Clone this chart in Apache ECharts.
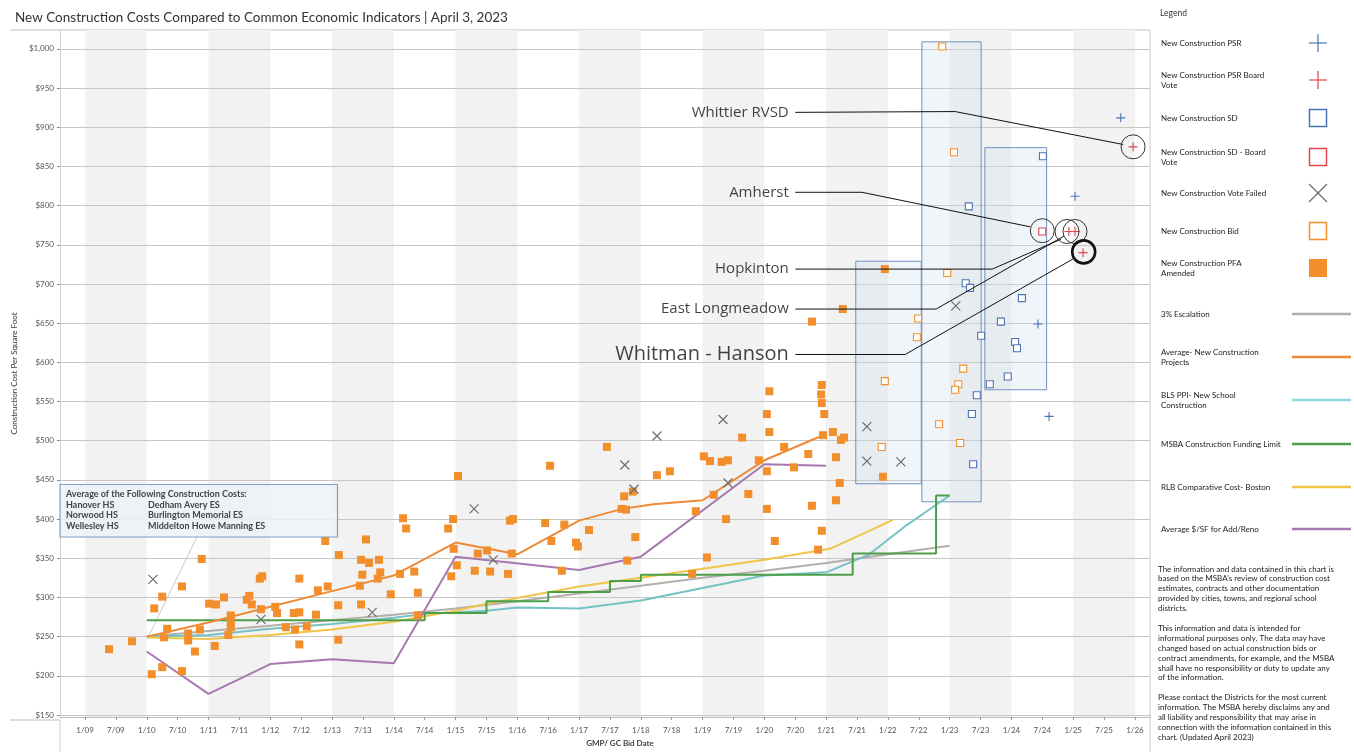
<!DOCTYPE html>
<html>
<head>
<meta charset="utf-8">
<script src="https://cdn.jsdelivr.net/npm/echarts@6/dist/echarts.min.js"></script>
<style>
html, body { margin: 0; padding: 0; background: #fff; }
#main { width: 1354px; height: 752px; }
</style>
</head>
<body>
<div id="main"></div>
<script>
// axis ticks
var dateTicks = ['1/09','7/09','1/10','7/10','1/11','7/11','1/12','7/12','1/13','7/13','1/14','7/14',
  '1/15','7/15','1/16','7/16','1/17','7/17','1/18','7/18','1/19','7/19','1/20','7/20','1/21','7/21',
  '1/22','7/22','1/23','7/23','1/24','7/24','1/25','7/25','1/26'];
var costTicks = [150,200,250,300,350,400,450,500,550,600,650,700,750,800,850,900,950,1000];
// grey year bands start on these years
var bandYears = [2009,2011,2013,2015,2017,2019,2021,2023,2025];

// x = year (decimal), y = $ per sq ft
var pfaAmended = [
  [2009.39,234],[2009.76,244],[2010.12,286],[2010.25,301],[2010.08,202],[2010.25,211],[2010.57,206],
  [2010.57,314],[2010.33,260],[2010.28,249],[2010.89,349],[2011.01,292],[2011.12,291],[2011.25,300],
  [2010.86,259],[2010.67,254],[2010.67,245],[2010.78,231],[2011.10,238],[2011.36,277],[2011.36,269],
  [2011.36,262],[2011.32,252],[2011.62,297],[2011.66,302],[2011.70,291],[2011.83,324],[2011.87,327],
  [2011.85,285],[2012.08,288],[2012.11,280],[2012.25,262],[2012.47,324],[2012.38,280],[2012.47,281],
  [2012.40,259],[2012.59,263],[2012.47,240],[2012.74,278],[2012.77,309],[2012.93,314],[2012.89,372],
  [2013.11,354],[2013.10,290],[2013.10,246],[2013.45,315],[2013.47,291],[2013.49,329],[2013.55,374],
  [2013.47,348],[2013.60,344],[2013.76,348],[2013.78,332],[2013.74,324],[2013.95,304],[2014.10,330],
  [2014.33,333],[2014.39,306],[2014.39,277],[2014.88,388],[2014.97,362],[2015.02,341],[2014.93,327],
  [2015.31,334],[2015.36,356],[2015.04,455],[2014.96,400],[2015.51,360],[2015.56,333],[2015.85,330],
  [2015.88,398],[2015.93,400],[2015.91,356],[2016.45,395],[2016.55,372],[2016.53,468],[2016.76,393],
  [2016.95,370],[2016.98,365],[2017.16,386],[2016.72,334],[2017.45,492],[2017.69,413],[2017.76,412],
  [2017.73,429],[2017.87,435],[2017.91,377],[2017.78,347],[2018.26,456],[2018.47,461],[2018.83,330],
  [2018.89,410],[2019.02,480],[2019.12,474],[2019.31,473],[2019.41,475],[2019.18,431],[2019.38,400],
  [2019.07,351],[2019.64,504],[2019.74,432],[2019.91,475],[2020.04,461],[2020.04,413],[2020.17,372],
  [2020.08,563],[2020.04,534],[2020.08,511],[2020.32,492],[2020.48,466],[2020.71,483],[2020.77,417],
  [2020.87,361],[2020.93,385],[2020.93,571],[2020.92,559],[2020.93,548],[2020.97,534],[2020.95,507],
  [2021.11,511],[2021.24,501],[2021.29,504],[2021.16,479],[2021.22,446],[2021.16,424],[2020.77,652],
  [2021.27,668],[2021.95,719],[2021.92,454],[2014.20,388],[2014.15,401]
];
var voteFailed = [
  [2010.10,323],[2011.85,272],[2013.65,281],[2015.30,413],[2015.61,348],[2017.74,469],[2017.89,438],
  [2018.26,506],[2019.33,527],[2019.41,446],[2021.66,518],[2021.66,474],[2022.21,473],[2023.10,672]
];
var bid = [
  [2022.88,1003],[2023.07,868],[2022.96,714],[2022.49,656],[2022.47,632],[2021.95,576],[2021.90,492],
  [2023.22,592],[2023.14,572],[2023.09,565],[2022.83,521],[2023.17,497]
];
var sd = [
  [2024.51,863],[2023.31,799],[2023.26,701],[2023.33,695],[2023.51,634],[2023.83,652],[2024.17,682],
  [2024.06,626],[2024.09,618],[2023.65,572],[2023.94,582],[2023.44,558],[2023.36,534],[2023.38,470]
];
var sdBoardVote = [[2024.50,767]];
var psr = [[2025.77,912],[2025.03,812],[2024.43,649],[2024.61,531]];
var psrBoardVote = [[2025.97,875],[2024.93,767],[2025.03,767],[2025.16,740]];

var avgNewConstruction = [[2010,250],[2011,268],[2012,288],[2013,308],[2014,328],[2015,370],[2016,355],
  [2017,398],[2017.7,413],[2018.2,419],[2019,424],[2020,475],[2020.95,507]];
var avgAddReno = [[2010,231],[2011,177],[2012,215],[2013,221],[2014,216],[2015,352],[2017,335],
  [2018,352],[2020,470],[2021,468]];
var escalation3 = [[2010,250],[2011,257],[2012,264],[2013,271],[2014,278],[2015,286],[2016,295],
  [2017,305],[2018,315],[2019,325],[2020,334],[2021,344],[2022,355],[2023,366]];
var blsPpi = [[2010,250],[2011,252],[2012,260],[2013,266],[2014,274],[2014.5,279],[2015.5,283],[2016,287],
  [2017,286],[2018,296],[2020,328],[2021,332],[2021.7,355],[2022.3,392],[2023,430]];
var rlbBoston = [[2010,249],[2011,247],[2012,252],[2013,259],[2014,269],[2015,283],[2015.5,292],
  [2017,314],[2018,325],[2020,348],[2021.06,362],[2021.7,385],[2022.08,399]];
var msbaLimit = [[2010,271],[2014.5,280],[2015.5,295],[2016.5,307],[2017.5,321],[2018,329],
  [2021.43,356],[2022.78,430],[2023,430]];

// shaded study boxes [x0, y0, x1, y1]
var studyBoxes = [[2021.48,729,2022.54,445],[2022.55,1009,2023.51,422],[2023.57,874,2024.57,565]];

// called-out projects
var callouts = [
  {name: 'Whittier RVSD', path: [[2020.5,919],[2023.09,920],[2025.81,878]], size: 15},
  {name: 'Amherst', path: [[2020.5,817],[2021.58,817],[2024.30,773]], size: 15},
  {name: 'Hopkinton', path: [[2020.5,719],[2023.69,719],[2024.80,757]], size: 15},
  {name: 'East Longmeadow', path: [[2020.5,668],[2022.78,668],[2024.85,761]], size: 15},
  {name: 'Whitman - Hanson', path: [[2020.5,610],[2022.28,610],[2025.00,732]], size: 20}
];
var calloutRings = [[2025.97,875],[2024.50,768],[2024.90,767],[2025.03,767]];
var boldRing = [[2025.17,741]];

var BLUE = '#4a74b4', RED = '#e0474c', ORANGE = '#f28f2c', XGRAY = '#6e6e6e';
var C_ESC = '#b5aeab', C_AVG = '#ee8a36', C_BLS = '#74c2c6', C_BLS_LEG = '#93d4e4',
    C_MSBA = '#4c9e48', C_RLB = '#f0c548', C_RENO = '#a879b0';
var FONT = 'Lato, "Liberation Sans", sans-serif';

function tickValue(s) {
  var p = s.split('/');
  return 2000 + Number(p[1]) + (Number(p[0]) - 1) / 12;
}
var tickValues = dateTicks.map(tickValue);

var plusPath = 'path://M0,5L10,5M5,0L5,10';
var crossPath = 'path://M0,0L10,10M10,0L0,10';

var myChart = echarts.init(document.getElementById('main'));

// legend drawn on the right
var legendRows = [
  ['New Construction PSR', 'plus', BLUE, 43],
  ['New Construction PSR Board\nVote', 'plus', RED, 80],
  ['New Construction SD', 'square', BLUE, 118],
  ['New Construction SD - Board\nVote', 'square', RED, 157],
  ['New Construction Vote Failed', 'cross', XGRAY, 193],
  ['New Construction Bid', 'square', ORANGE, 231],
  ['New Construction PFA\nAmended', 'filled', ORANGE, 268],
  ['3% Escalation', 'line', C_ESC, 314],
  ['Average- New Construction\nProjects', 'line', C_AVG, 357],
  ['BLS PPI- New School\nConstruction', 'line', C_BLS_LEG, 400],
  ['MSBA Construction Funding Limit', 'line', C_MSBA, 444],
  ['RLB Comparative Cost- Boston', 'line', C_RLB, 487],
  ['Average $/SF for Add/Reno', 'line', C_RENO, 529]
];
var graphics = [
  {type: 'line', shape: {x1: 10, y1: 30, x2: 1150, y2: 30}, style: {stroke: '#d6d6d6', lineWidth: 1.5}},
  {type: 'line', shape: {x1: 1150, y1: 30, x2: 1150, y2: 752}, style: {stroke: '#dcdcdc', lineWidth: 1.5}},
  {type: 'line', shape: {x1: 60, y1: 720, x2: 60, y2: 752}, style: {stroke: '#d0d0d0', lineWidth: 1}},
  {type: 'line', shape: {x1: 10, y1: 720, x2: 60, y2: 720}, style: {stroke: '#bdbdbd', lineWidth: 1}},
  {type: 'text', x: 1160, y: 13, style: {text: 'Legend', fill: '#333', fontSize: 8.5, fontFamily: FONT, verticalAlign: 'middle'}}
];
legendRows.forEach(function (r) {
  var y = r[3], cx = 1318;
  graphics.push({type: 'text', x: 1161, y: y, style: {text: r[0], fill: '#222', fontSize: 8, lineHeight: 10,
    fontFamily: FONT, verticalAlign: 'middle'}});
  if (r[1] === 'plus') {
    graphics.push({type: 'line', shape: {x1: cx - 9, y1: y, x2: cx + 9, y2: y}, style: {stroke: r[2], lineWidth: 1.2}});
    graphics.push({type: 'line', shape: {x1: cx, y1: y - 9, x2: cx, y2: y + 9}, style: {stroke: r[2], lineWidth: 1.2}});
  } else if (r[1] === 'cross') {
    graphics.push({type: 'line', shape: {x1: cx - 9, y1: y - 9, x2: cx + 9, y2: y + 9}, style: {stroke: r[2], lineWidth: 1.2}});
    graphics.push({type: 'line', shape: {x1: cx + 9, y1: y - 9, x2: cx - 9, y2: y + 9}, style: {stroke: r[2], lineWidth: 1.2}});
  } else if (r[1] === 'square') {
    graphics.push({type: 'rect', shape: {x: cx - 8.5, y: y - 8.5, width: 17, height: 17}, style: {fill: '#fff', stroke: r[2], lineWidth: 1.5}});
  } else if (r[1] === 'filled') {
    graphics.push({type: 'rect', shape: {x: cx - 9, y: y - 9, width: 18, height: 18}, style: {fill: r[2]}});
  } else {
    graphics.push({type: 'line', shape: {x1: 1292, y1: y, x2: 1351, y2: y}, style: {stroke: r[2], lineWidth: 2.5}});
  }
});
graphics.push({type: 'text', x: 1158, y: 564, style: {
  text: "The information and data contained in this chart is\nbased on the MSBA's review of construction cost\n" +
    "estimates, contracts and other documentation\nprovided by cities, towns, and regional school\ndistricts.\n\n" +
    "This information and data is intended for\ninformational purposes only. The data may have\n" +
    "changed based on actual construction bids or\ncontract amendments, for example, and the MSBA\n" +
    "shall have no responsibility or duty to update any\nof the information.\n\n" +
    "Please contact the Districts for the most current\ninformation. The MSBA hereby disclaims any and\n" +
    "all liability and responsibility that may arise in\nconnection with the information contained in this\n" +
    "chart. (Updated April 2023)",
  fill: '#222', fontSize: 8, lineHeight: 9.9, fontFamily: FONT}});
// note box
graphics.push({type: 'rect', shape: {x: 60, y: 484.5, width: 277.5, height: 52.5},
  style: {fill: 'rgba(236,242,248,0.85)', stroke: '#7f9fc6', lineWidth: 1.2}, z: 50});
graphics.push({type: 'text', x: 66, y: 489, z: 51, style: {text: 'Average of the Following Construction Costs:\nHanover HS\nNorwood HS\nWellesley HS',
  fill: '#444', fontSize: 9, fontWeight: 'bold', lineHeight: 10.6, fontFamily: FONT}});
graphics.push({type: 'text', x: 148, y: 499.6, z: 51, style: {text: 'Dedham Avery ES\nBurlington Memorial ES\nMiddelton Howe Manning ES',
  fill: '#444', fontSize: 9, fontWeight: 'bold', lineHeight: 10.6, fontFamily: FONT}});

function lineSeries(name, data, color, extra) {
  var s = {name: name, type: 'line', data: data, symbol: 'none', z: 3, silent: true,
    lineStyle: {color: color, width: 2}};
  for (var k in extra) s[k] = extra[k];
  return s;
}

myChart.setOption({
  animation: false,
  title: {
    text: 'New Construction Costs Compared to Common Economic Indicators | April 3, 2023',
    left: 10, top: 6,
    textStyle: {fontSize: 13.5, fontWeight: 'normal', color: '#333', fontFamily: FONT}
  },
  grid: {left: 60, right: 204, top: 30, bottom: 32},
  xAxis: {
    type: 'value', min: 2008.595, max: 2026.244,
    name: 'GMP/ GC Bid Date', nameLocation: 'middle', nameGap: 22,
    nameTextStyle: {fontSize: 8, color: '#444', fontFamily: FONT, fontWeight: 'bold', padding: [0, 0, 0, 30]},
    axisLine: {lineStyle: {color: '#bdbdbd'}},
    axisTick: {customValues: tickValues, length: 3, lineStyle: {color: '#999'}},
    axisLabel: {customValues: tickValues, fontSize: 8, color: '#555', fontFamily: FONT, margin: 9,
      formatter: function (v) {
        for (var i = 0; i < tickValues.length; i++) if (Math.abs(tickValues[i] - v) < 0.01) return dateTicks[i];
        return '';
      }},
    splitLine: {show: false}
  },
  yAxis: {
    type: 'value', min: 147.4, max: 1024.1, z: 1,
    name: 'Construction Cost Per Square Foot', nameLocation: 'middle', nameGap: 40,
    nameTextStyle: {fontSize: 8, color: '#333', fontFamily: FONT},
    axisLine: {show: true, lineStyle: {color: '#d0d0d0'}},
    axisTick: {show: true, customValues: costTicks, length: 3, lineStyle: {color: '#888'}},
    axisLabel: {customValues: costTicks, fontSize: 8, color: '#555', fontFamily: FONT, margin: 6,
      formatter: function (v) { return '$' + (v >= 1000 ? '1,' + String(v).slice(1) : v); }},
    splitLine: {show: true, lineStyle: {color: '#c6c6c6', width: 1.2}}
  },
  graphic: graphics,
  series: [
    {name: 'bands', type: 'line', data: [], z: 0, silent: true,
      markArea: {silent: true, z: 0, itemStyle: {color: '#f2f2f2'},
        data: bandYears.map(function (y) { return [{xAxis: y}, {xAxis: y + 1}]; })}},
    {name: 'boxes', type: 'line', data: [], z: 2, silent: true,
      markArea: {silent: true, z: 2, itemStyle: {color: 'rgba(205,222,238,0.3)', borderColor: '#6f93c0', borderWidth: 1},
        data: studyBoxes.map(function (b) { return [{coord: [b[0], b[1]]}, {coord: [b[2], b[3]]}]; })}},
    {name: 'note leader', type: 'lines', coordinateSystem: 'cartesian2d', z: 3, silent: true,
      lineStyle: {color: '#c8c8c8', width: 1, opacity: 1}, data: [{coords: [[2010.83, 380], [2010.02, 249]]}]},
    lineSeries('3% Escalation', escalation3, C_ESC),
    lineSeries('BLS PPI- New School Construction', blsPpi, C_BLS),
    lineSeries('RLB Comparative Cost- Boston', rlbBoston, C_RLB),
    lineSeries('MSBA Construction Funding Limit', msbaLimit, C_MSBA, {step: 'end'}),
    lineSeries('Average $/SF for Add/Reno', avgAddReno, C_RENO),
    lineSeries('Average- New Construction Projects', avgNewConstruction, C_AVG),
    {name: 'New Construction PFA Amended', type: 'scatter', data: pfaAmended, z: 4, symbol: 'rect', symbolSize: 8,
      itemStyle: {color: ORANGE, opacity: 1}},
    {name: 'New Construction Vote Failed', type: 'scatter', data: voteFailed, z: 4, symbol: crossPath, symbolSize: 9,
      itemStyle: {color: 'none', borderColor: XGRAY, borderWidth: 1.2, opacity: 1}},
    {name: 'New Construction Bid', type: 'scatter', data: bid, z: 4, symbol: 'rect', symbolSize: 7,
      itemStyle: {color: '#fff', borderColor: ORANGE, borderWidth: 1.1, opacity: 1}},
    {name: 'New Construction SD', type: 'scatter', data: sd, z: 4, symbol: 'rect', symbolSize: 7,
      itemStyle: {color: '#fff', borderColor: BLUE, borderWidth: 1.1, opacity: 1}},
    {name: 'New Construction SD - Board Vote', type: 'scatter', data: sdBoardVote, z: 4, symbol: 'rect', symbolSize: 7,
      itemStyle: {color: '#fff', borderColor: RED, borderWidth: 1.1, opacity: 1}},
    {name: 'New Construction PSR', type: 'scatter', data: psr, z: 4, symbol: plusPath, symbolSize: 9,
      itemStyle: {color: 'none', borderColor: BLUE, borderWidth: 1.1, opacity: 1}},
    {name: 'New Construction PSR Board Vote', type: 'scatter', data: psrBoardVote, z: 4, symbol: plusPath, symbolSize: 9,
      itemStyle: {color: 'none', borderColor: RED, borderWidth: 1.1, opacity: 1}},
    {name: 'rings', type: 'scatter', data: calloutRings, z: 5, symbol: 'circle', symbolSize: 24, silent: true,
      itemStyle: {color: 'none', borderColor: '#333', borderWidth: 1, opacity: 1}},
    {name: 'bold ring', type: 'scatter', data: boldRing, z: 5, symbol: 'circle', symbolSize: 23, silent: true,
      itemStyle: {color: 'none', borderColor: '#111', borderWidth: 2.6, opacity: 1}},
    {name: 'callout lines', type: 'lines', coordinateSystem: 'cartesian2d', polyline: true, z: 5, silent: true,
      lineStyle: {color: '#111', width: 1, opacity: 1},
      data: callouts.map(function (c) { return {coords: c.path}; })},
    {name: 'callout labels', type: 'scatter', z: 6, silent: true, symbolSize: 1,
      itemStyle: {color: 'rgba(0,0,0,0)'},
      data: callouts.map(function (c) {
        return {value: c.path[0], name: c.name,
          label: {show: true, position: 'left', distance: 6, formatter: '{b}', color: '#111',
            fontSize: c.size, fontFamily: '"Open Sans", sans-serif'}};
      })}
  ]
});
</script>
</body>
</html>
